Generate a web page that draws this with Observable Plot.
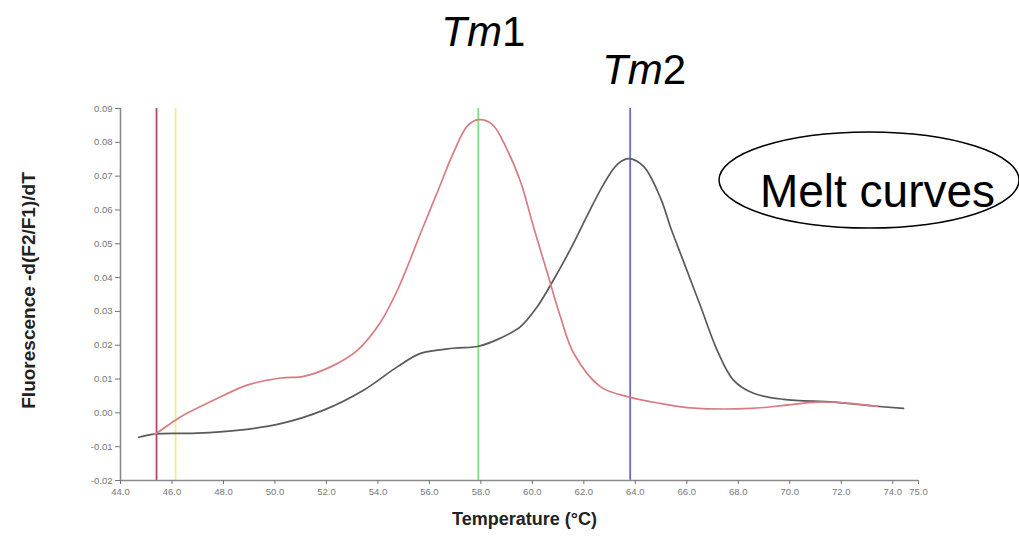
<!DOCTYPE html>
<html>
<head>
<meta charset="utf-8">
<script src="https://cdn.jsdelivr.net/npm/d3@7"></script>
<script src="https://cdn.jsdelivr.net/npm/@observablehq/plot@0.6"></script>
<style>
  html, body { margin: 0; padding: 0; background: #fff; }
  #chart svg { display: block; font-family: "Liberation Sans", Arial, sans-serif; }
</style>
</head>
<body>
<div id="chart"></div>
<script>
// ---- data ----
const redTemps   = [45.3, 45.36, 46.33, 47.61, 48.92, 50.22, 51.11, 52.16, 53.20, 54.10, 54.80, 55.66, 56.30, 56.94, 57.47, 57.91, 58.44, 59.02, 59.55, 60.04, 60.58, 61.09, 61.60, 62.65, 63.81, 64.98, 66.14, 68.48, 69.76, 71.07, 72.36, 73.40];
const redValues  = [-0.0064, -0.0062, -0.0012, 0.0037, 0.0082, 0.0103, 0.0108, 0.0136, 0.0185, 0.0268, 0.0370, 0.0532, 0.0651, 0.0770, 0.0848, 0.0867, 0.0853, 0.0778, 0.0681, 0.0551, 0.0414, 0.0284, 0.0177, 0.0077, 0.0046, 0.0028, 0.0015, 0.0013, 0.0022, 0.0032, 0.0028, 0.0019];
const blackTemps  = [44.71, 45.36, 46.98, 48.53, 50.22, 51.89, 53.44, 54.75, 55.66, 56.94, 57.91, 58.76, 59.54, 60.19, 60.82, 61.48, 62.13, 62.76, 63.30, 63.74, 64.32, 64.98, 65.37, 65.87, 66.53, 67.18, 67.81, 68.59, 69.76, 71.70, 73.01, 74.42];
const blackValues = [-0.0072, -0.0062, -0.0060, -0.0052, -0.0032, 0.0008, 0.0067, 0.0136, 0.0176, 0.0191, 0.0197, 0.0221, 0.0255, 0.0314, 0.0393, 0.0484, 0.0583, 0.0675, 0.0735, 0.0752, 0.0729, 0.0635, 0.0548, 0.0448, 0.0316, 0.0185, 0.0097, 0.0058, 0.0040, 0.0032, 0.0022, 0.0013];
const markerTemps  = [45.4, 46.14, 57.9, 63.8];
const markerColors = ["#b04a62", "#eeee90", "#7fe07f", "#6a6ac4"];
const tmLabels = ["Tm1", "Tm2"];
const tmTemps  = [57.9, 63.8];
const xTicks = [44, 46, 48, 50, 52, 54, 56, 58, 60, 62, 64, 66, 68, 70, 72, 74, 75];
const xTickLabels = ["44.0", "46.0", "48.0", "50.0", "52.0", "54.0", "56.0", "58.0", "60.0", "62.0", "64.0", "66.0", "68.0", "70.0", "72.0", "74.0", "75.0"];
const yTicks = [-0.02, -0.01, 0.00, 0.01, 0.02, 0.03, 0.04, 0.05, 0.06, 0.07, 0.08, 0.09];
const yTickLabels = ["-0.02", "-0.01", "0.00", "0.01", "0.02", "0.03", "0.04", "0.05", "0.06", "0.07", "0.08", "0.09"];
const xLabel = "Temperature (°C)";
const yLabel = "Fluorescence -d(F2/F1)/dT";
const boxLabel = "Melt curves";

const red = redTemps.map((t, i) => ({t, v: redValues[i]}));
const black = blackTemps.map((t, i) => ({t, v: blackValues[i]}));
const markers = markerTemps.map((t, i) => ({t, c: markerColors[i]}));

const tickColor = "#777";

const plot = Plot.plot({
  width: 1019,
  height: 546,
  marginLeft: 120,
  marginRight: 101,
  marginTop: 108,
  marginBottom: 66,
  x: {domain: [44, 75]},
  y: {domain: [-0.02, 0.09]},
  style: {background: "#fff", fontFamily: "'Liberation Sans', Arial, sans-serif"},
  marks: [
    Plot.ruleX(markers, {x: "t", stroke: "c", strokeWidth: 1.8}),
    Plot.line(black, {x: "t", y: "v", stroke: "#5a5a5a", strokeWidth: 1.7, curve: "catmull-rom"}),
    Plot.line(red, {x: "t", y: "v", stroke: "#d87c82", strokeWidth: 1.7, curve: "catmull-rom"}),
    Plot.ruleX([44], {stroke: "#8a8a8a", strokeWidth: 1.6}),
    Plot.ruleY([-0.02], {stroke: "#8a8a8a", strokeWidth: 1.6}),
    Plot.axisY({ticks: yTicks, tickFormat: d => yTickLabels[yTicks.indexOf(d)], tickSize: 5, tickPadding: 3, fontSize: 9.5, color: tickColor, label: null}),
    Plot.axisX({ticks: xTicks, tickFormat: d => xTickLabels[xTicks.indexOf(d)], tickSize: 4, tickPadding: 4, fontSize: 9.5, color: tickColor, label: null}),
    Plot.text([tmLabels[0]], {x: () => tmTemps[0], frameAnchor: "top", dx: 5, dy: -92, fontSize: 42, fontStyle: "italic", fill: "#000"}),
    Plot.text([tmLabels[1]], {x: () => tmTemps[1], frameAnchor: "top", dx: 14, dy: -54, fontSize: 42, fontStyle: "italic", fill: "#000"}),
    Plot.text([boxLabel], {frameAnchor: "top-right", textAnchor: "middle", dx: -41, dy: 66, fontSize: 46, fill: "#000"}),
    Plot.text([xLabel], {frameAnchor: "bottom", dx: 5, dy: 44, fontSize: 18, fontWeight: "bold", fill: "#222"}),
    Plot.text([yLabel], {frameAnchor: "left", textAnchor: "middle", rotate: -90, dx: -92, dy: -4, fontSize: 19, fontWeight: "bold", fill: "#222"})
  ]
});

// italic "Tm" with upright digit
d3.select(plot).selectAll("text").each(function() {
  const el = d3.select(this);
  const s = el.text();
  if (s === "Tm1" || s === "Tm2") {
    el.text(null);
    el.append("tspan").text("Tm");
    el.append("tspan").attr("font-style", "normal").text(s.slice(2));
  }
});

// ellipse around "Melt curves"
d3.select(plot).append("ellipse")
  .attr("cx", 869).attr("cy", 180).attr("rx", 150).attr("ry", 48)
  .attr("fill", "none").attr("stroke", "#000").attr("stroke-width", 1.5);

document.getElementById("chart").appendChild(plot);
</script>
</body>
</html>
